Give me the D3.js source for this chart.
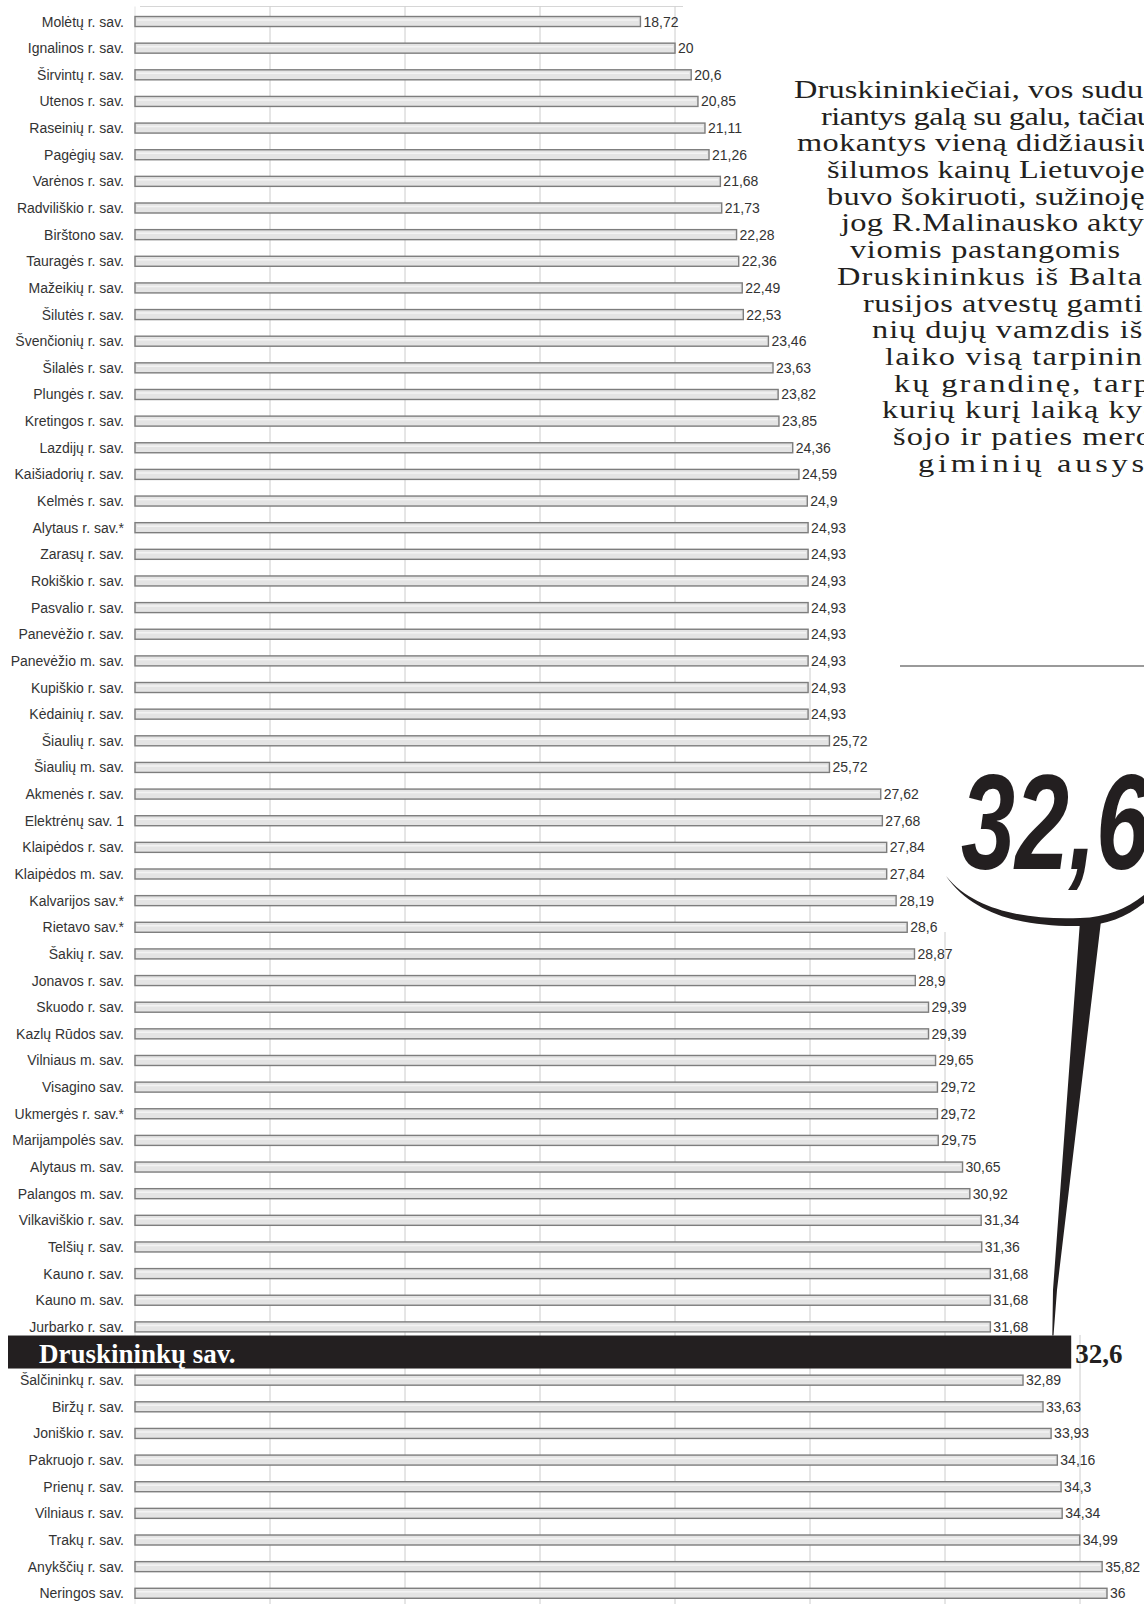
<!DOCTYPE html>
<html>
<head>
<meta charset="utf-8">
<script src="https://cdn.jsdelivr.net/npm/d3@7"></script>
<style>
  html, body { margin: 0; padding: 0; background: #fff; }
  svg { display: block; }
</style>
</head>
<body>
<svg id="chart" width="1144" height="1604"></svg>
<script>
const categories = [
  "Molėtų r. sav.", "Ignalinos r. sav.", "Širvintų r. sav.", "Utenos r. sav.", "Raseinių r. sav.",
  "Pagėgių sav.", "Varėnos r. sav.", "Radviliškio r. sav.", "Birštono sav.", "Tauragės r. sav.",
  "Mažeikių r. sav.", "Šilutės r. sav.", "Švenčionių r. sav.", "Šilalės r. sav.", "Plungės r. sav.",
  "Kretingos r. sav.", "Lazdijų r. sav.", "Kaišiadorių r. sav.", "Kelmės r. sav.", "Alytaus r. sav.*",
  "Zarasų r. sav.", "Rokiškio r. sav.", "Pasvalio r. sav.", "Panevėžio r. sav.", "Panevėžio m. sav.",
  "Kupiškio r. sav.", "Kėdainių r. sav.", "Šiaulių r. sav.", "Šiaulių m. sav.", "Akmenės r. sav.",
  "Elektrėnų sav. 1", "Klaipėdos r. sav.", "Klaipėdos m. sav.", "Kalvarijos sav.*", "Rietavo sav.*",
  "Šakių r. sav.", "Jonavos r. sav.", "Skuodo r. sav.", "Kazlų Rūdos sav.", "Vilniaus m. sav.",
  "Visagino sav.", "Ukmergės r. sav.*", "Marijampolės sav.", "Alytaus m. sav.", "Palangos m. sav.",
  "Vilkaviškio r. sav.", "Telšių r. sav.", "Kauno r. sav.", "Kauno m. sav.", "Jurbarko r. sav.",
  "Druskininkų sav.", "Šalčininkų r. sav.", "Biržų r. sav.", "Joniškio r. sav.", "Pakruojo r. sav.",
  "Prienų r. sav.", "Vilniaus r. sav.", "Trakų r. sav.", "Anykščių r. sav.", "Neringos sav."
];
const values = [
  18.72, 20, 20.6, 20.85, 21.11,
  21.26, 21.68, 21.73, 22.28, 22.36,
  22.49, 22.53, 23.46, 23.63, 23.82,
  23.85, 24.36, 24.59, 24.9, 24.93,
  24.93, 24.93, 24.93, 24.93, 24.93,
  24.93, 24.93, 25.72, 25.72, 27.62,
  27.68, 27.84, 27.84, 28.19, 28.6,
  28.87, 28.9, 29.39, 29.39, 29.65,
  29.72, 29.72, 29.75, 30.65, 30.92,
  31.34, 31.36, 31.68, 31.68, 31.68,
  32.6, 32.89, 33.63, 33.93, 34.16,
  34.3, 34.34, 34.99, 35.82, 36
];
const highlightName = "Druskininkų sav.";
const gridTicks = [0, 5, 10, 15, 20, 25, 30, 35];
const calloutText = "32,6";
const noteLines = [
  "Druskininkiečiai, vos sudu-",
  "riantys galą su galu, tačiau",
  "mokantys vieną didžiausių",
  "šilumos kainų Lietuvoje,",
  "buvo šokiruoti, sužinoję,",
  "jog R.Malinausko akty-",
  "viomis pastangomis",
  "Druskininkus iš Balta-",
  "rusijos atvestų gamti-",
  "nių dujų vamzdis iš-",
  "laiko visą tarpinin-",
  "kų grandinę, tarp",
  "kurių kurį laiką ky-",
  "šojo ir paties mero",
  "giminių ausys."
];
const noteStarts = [794, 821, 797, 827, 827, 841, 850, 837, 863, 872, 885, 894, 882, 893, 918];
const noteEnds = [1154, 1153, 1153, 1153, 1153, 1155, 1120, 1154, 1154, 1154, 1154, 1150, 1154, 1152, 1156];

const fmt = v => String(v).replace(".", ",");
const data = categories.map((c, i) => ({ name: c, value: values[i] }));

const svg = d3.select("#chart");
const W = 1144;

const x = d3.scaleLinear().domain([0, 36]).range([135, 1107]);
const y = d3.scaleBand().domain(categories).range([8.2, 1606.6]).paddingInner(0);
const barH = 10;

// grid lines
svg.append("line").attr("x1", 140).attr("x2", 683).attr("y1", 6.5).attr("y2", 6.5)
  .attr("stroke", "#d6d6d6").attr("stroke-width", 1);
svg.append("g").selectAll("line").data(gridTicks).join("line")
  .attr("x1", d => x(d)).attr("x2", d => x(d))
  .attr("y1", 6.5).attr("y2", 1604)
  .attr("stroke", d => d === 0 ? "#e3e3e3" : "#cccccc")
  .attr("stroke-width", 1);

// white panels behind the annotation
const cover = svg.append("g").attr("fill", "#fff");
cover.append("rect").attr("x", 786).attr("y", 0).attr("width", W - 786).attr("height", 668);
cover.append("rect").attr("x", 930).attr("y", 668).attr("width", W - 930).attr("height", 264);
cover.append("rect").attr("x", 1062).attr("y", 932).attr("width", W - 1062).attr("height", 403);

// category labels
const normal = data.filter(d => d.name !== highlightName);
svg.append("g").selectAll("text").data(normal).join("text")
  .attr("x", 124).attr("y", d => y(d.name) + y.bandwidth() / 2)
  .attr("text-anchor", "end").attr("dominant-baseline", "central")
  .attr("font-family", "Liberation Sans, Arial, sans-serif").attr("font-size", 14)
  .attr("fill", "#333").text(d => d.name);

// bars
svg.append("g").selectAll("rect").data(normal).join("rect")
  .attr("x", x(0)).attr("y", d => y(d.name) + y.bandwidth() / 2 - barH / 2)
  .attr("width", d => x(d.value) - x(0)).attr("height", barH)
  .attr("fill", "#e4e4e4").attr("stroke", "#7d7d7d").attr("stroke-width", 1.4);
svg.append("g").selectAll("line").data(normal).join("line")
  .attr("x1", x(0) + 2).attr("x2", d => x(d.value) - 2)
  .attr("y1", d => y(d.name) + y.bandwidth() / 2 - 1.5)
  .attr("y2", d => y(d.name) + y.bandwidth() / 2 - 1.5)
  .attr("stroke", "#f3f3f3").attr("stroke-width", 1.5);

// value labels
svg.append("g").selectAll("text").data(normal).join("text")
  .attr("x", d => x(d.value) + 3).attr("y", d => y(d.name) + y.bandwidth() / 2)
  .attr("dominant-baseline", "central")
  .attr("font-family", "Liberation Sans, Arial, sans-serif").attr("font-size", 14)
  .attr("fill", "#333").text(d => fmt(d.value));

// highlighted row
const hd = data.find(d => d.name === highlightName);
const hc = y(hd.name) + y.bandwidth() / 2;
svg.append("rect").attr("x", 8).attr("y", hc - 18).attr("width", x(hd.value) + 56 - 8).attr("height", 33)
  .attr("fill", "#231f20");
svg.append("text").attr("x", 39).attr("y", hc).attr("dominant-baseline", "central")
  .attr("font-family", "Liberation Serif, Times New Roman, serif").attr("font-weight", "bold")
  .attr("font-size", 27).attr("fill", "#fff").text(hd.name);
svg.append("text").attr("x", x(hd.value) + 60).attr("y", hc).attr("dominant-baseline", "central")
  .attr("font-family", "Liberation Serif, Times New Roman, serif").attr("font-weight", "bold")
  .attr("font-size", 27).attr("fill", "#231f20").text(fmt(hd.value));

// annotation text
const sx = 1.27;
const note = svg.append("g").attr("transform", `scale(${sx},1)`)
  .attr("font-family", "Liberation Serif, Times New Roman, serif")
  .attr("font-size", 25.5).attr("fill", "#231f20");
note.selectAll("text").data(noteLines).join("text")
  .attr("x", (d, i) => noteStarts[i] / sx)
  .attr("y", (d, i) => 98 + i * 26.7)
  .attr("textLength", (d, i) => (noteEnds[i] - noteStarts[i]) / sx)
  .attr("lengthAdjust", "spacing")
  .text(d => d);

svg.append("line").attr("x1", 900).attr("x2", W).attr("y1", 666).attr("y2", 666)
  .attr("stroke", "#9a9a9a").attr("stroke-width", 2);

// big callout
svg.append("text").attr("transform", "translate(961,869) scale(0.72,1)")
  .attr("font-family", "Liberation Sans, Arial, sans-serif").attr("font-weight", "bold")
  .attr("font-style", "italic").attr("font-size", 135).attr("fill", "#231f20")
  .text(calloutText);
svg.append("path")
  .attr("d", "M946,876 C975,912 1030,920 1080,918 C1110,917 1130,907 1150,890 L1150,898 C1130,915 1110,925 1080,926 C1030,927 975,918 946,876 Z")
  .attr("fill", "#231f20");
svg.append("path")
  .attr("d", `M1080,921 L1101,921 L1057,1290 L1053.5,${hc - 18} L1052.3,${hc - 18} L1053,1290 Z`)
  .attr("fill", "#231f20");
</script>
</body>
</html>
